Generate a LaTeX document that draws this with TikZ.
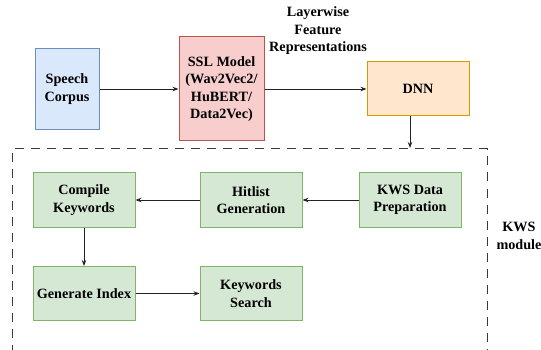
\documentclass[tikz,border=0pt]{standalone}
\usepackage{fontspec}
\setmainfont{Liberation Serif}
\usetikzlibrary{arrows.meta}
\definecolor{bfill}{HTML}{DAE8FC}\definecolor{bdraw}{HTML}{6C8EBF}
\definecolor{rfill}{HTML}{F8CECC}\definecolor{rdraw}{HTML}{B85450}
\definecolor{ofill}{HTML}{FFE6CC}\definecolor{odraw}{HTML}{D79B00}
\definecolor{gfill}{HTML}{D5E8D4}\definecolor{gdraw}{HTML}{82B366}
\definecolor{edgec}{HTML}{222222}
\begin{document}
\begin{tikzpicture}[x=1pt,y=-1pt,
  box/.style={draw, line width=1pt, inner sep=0pt, align=center,
    font=\fontsize{14.2}{17.5}\selectfont\bfseries},
  bluebox/.style={box, fill=bfill, draw=bdraw},
  redbox/.style={box, fill=rfill, draw=rdraw},
  orangebox/.style={box, fill=ofill, draw=odraw},
  greenbox/.style={box, fill=gfill, draw=gdraw, minimum width=102pt, minimum height=54pt},
  conn/.style={draw=edgec, line width=0.9pt, -{Stealth[length=6pt,width=4.5pt]}},
  lbl/.style={align=center, font=\fontsize{14.2}{17.5}\selectfont\bfseries, inner sep=0pt}]
\useasboundingbox (0,0) rectangle (541,350);
\begin{scope}
\clip (0,0) rectangle (541,350);
\draw[draw=edgec!90, line width=1pt, dash pattern=on 9pt off 7pt] (12,370) -- (12,149) -- (487.5,149) -- (487.5,370);
\end{scope}
\node[bluebox, minimum width=64pt, minimum height=81pt] (sc) at (67,89) {Speech\\Corpus};
\node[redbox, minimum width=85pt, minimum height=104pt] (ssl) at (221.5,89) {SSL Model\\(Wav2Vec2/\\HuBERT/\\Data2Vec)};
\node[orangebox, minimum width=102pt, minimum height=54pt] (dnn) at (418,89) {DNN};
\node[lbl] (lw) at (318,31) {Layerwise\\Feature\\Representations};
\node[greenbox] (ck) at (84,200) {Compile\\Keywords};
\node[greenbox] (hg) at (251,200) {Hitlist\\Generation};
\node[greenbox] (kd) at (410,200) {KWS Data\\Preparation};
\node[greenbox] (gi) at (84,293.5) {Generate Index};
\node[greenbox] (ks) at (251,293.5) {Keywords\\Search};
\node[lbl] (km) at (519,236) {KWS\\module};
\coordinate (dnnout) at (410,116);
\coordinate (boxin) at (410,148);
\draw[conn] (sc) -- (ssl);
\draw[conn] (ssl) -- (dnn);
\draw[conn] (dnnout) -- (boxin);
\draw[conn] (kd) -- (hg);
\draw[conn] (hg) -- (ck);
\draw[conn] (ck) -- (gi);
\draw[conn] (gi) -- (ks);
\end{tikzpicture}
\end{document}
